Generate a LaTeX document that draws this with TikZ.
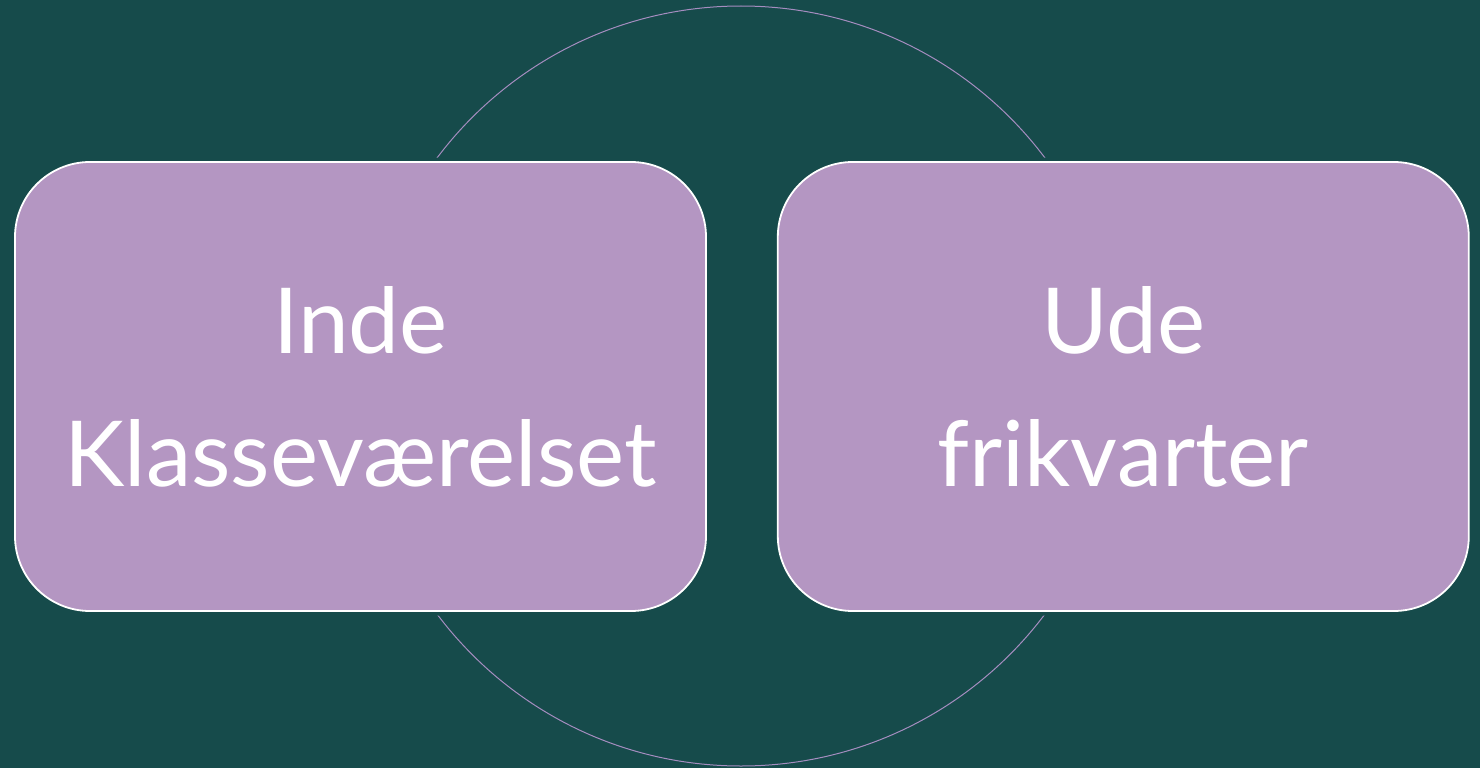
\documentclass[tikz,border=0pt]{standalone}
\usepackage{fontspec}
\setmainfont{Lato}
\usetikzlibrary{positioning}
\definecolor{bgteal}{HTML}{164B4B}
\definecolor{boxpurple}{HTML}{B496C2}
\definecolor{ringpurple}{HTML}{A58DC0}
\tikzset{
  place/.style={rectangle, rounded corners=75pt, fill=boxpurple, draw=white,
    line width=1.8pt, minimum width=691pt, minimum height=449pt,
    align=center, text=white, font=\fontsize{91}{133}\selectfont,
    preaction={draw=bgteal, line width=9pt}},
}
\begin{document}
\begin{tikzpicture}[x=1pt, y=-1pt]
  \fill[bgteal] (0,0) rectangle (1480,768);
  \useasboundingbox (0,0) rectangle (1480,768);
  % Define the ring
  \coordinate (mid) at (741,386);
  \draw[ringpurple, line width=1pt] (mid) circle[radius=380pt];
  % Define nodes
  \node[place] (inde) at (360.5,386.5) {Inde\\Klasseværelset};
  \node[place, right=70pt of inde] (ude) {Ude\\frikvarter};
\end{tikzpicture}
\end{document}
